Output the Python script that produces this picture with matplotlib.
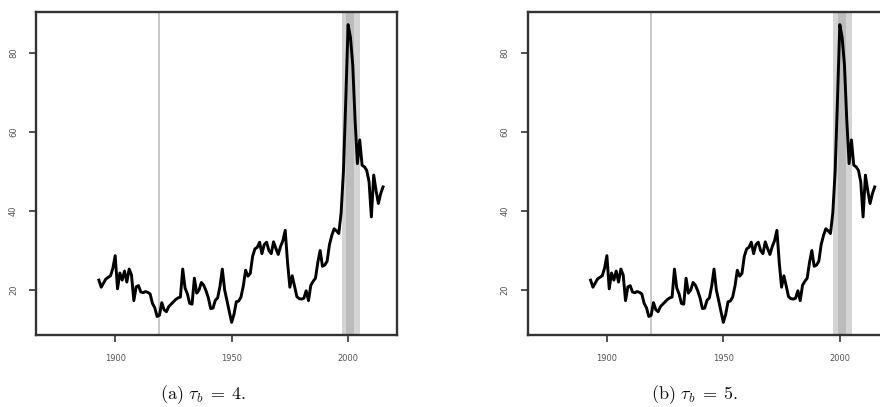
import matplotlib
matplotlib.use("Agg")
import matplotlib.pyplot as plt

plt.rcParams["mathtext.fontset"] = "cm"

# Annual series values
years = [1893, 1894, 1896, 1898, 1899, 1900, 1901, 1902, 1903, 1904, 1905, 1906,
         1907, 1908, 1909, 1910, 1911, 1912, 1913, 1914, 1915, 1916, 1917, 1918,
         1919, 1920, 1921, 1922, 1923, 1924, 1925, 1926, 1927, 1928, 1929, 1930,
         1931, 1932, 1933, 1934, 1935, 1936, 1937, 1938, 1939, 1940, 1941, 1942,
         1943, 1944, 1945, 1946, 1947, 1948, 1949, 1950, 1951, 1952, 1953, 1954,
         1955, 1956, 1957, 1958, 1959, 1960, 1961, 1962, 1963, 1964, 1965, 1966,
         1967, 1968, 1969, 1970, 1971, 1972, 1973, 1974, 1975, 1976, 1977, 1978,
         1979, 1980, 1981, 1982, 1983, 1984, 1985, 1986, 1987, 1988, 1989, 1990,
         1991, 1992, 1993, 1994, 1995, 1996, 1997, 1998, 1999, 2000, 2001, 2002,
         2003, 2004, 2005, 2006, 2007, 2008, 2009, 2010, 2011, 2012, 2013, 2014,
         2015]
values = [22.5, 20.7, 22.8, 23.6, 25.5, 28.7, 20.3, 24.3, 22.5, 24.8, 22.0, 25.3,
          23.8, 17.3, 20.8, 21.1, 19.5, 19.3, 19.6, 19.4, 19.0, 16.6, 15.5, 13.3,
          13.6, 16.8, 15.0, 14.5, 15.8, 16.4, 17.0, 17.6, 18.0, 18.2, 25.3, 20.5,
          19.0, 16.6, 16.4, 23.0, 19.2, 20.0, 21.9, 21.2, 19.8, 18.0, 15.3, 15.4,
          17.4, 18.0, 21.0, 25.3, 20.0, 17.3, 14.5, 11.8, 13.8, 17.0, 17.2, 18.2,
          21.0, 25.0, 23.5, 24.2, 28.5, 30.4, 30.8, 32.1, 29.2, 31.5, 32.1, 30.0,
          29.2, 32.2, 30.5, 29.0, 31.0, 32.5, 35.1, 27.0, 20.7, 23.6, 21.0, 18.3,
          17.8, 17.7, 17.9, 19.8, 17.3, 21.2, 22.2, 23.0, 27.0, 30.0, 26.0, 26.3,
          27.3, 31.5, 33.8, 35.5, 35.0, 34.3, 39.5, 50.0, 68.0, 87.2, 84.0, 77.0,
          63.0, 52.0, 58.0, 51.6, 51.2, 50.3, 47.4, 38.5, 49.1, 45.2, 41.9, 44.4,
          46.1]

break_year = 1918.9
outer_band = (1997.2, 2005.1)
inner_band = (1999.3, 2002.7)

x_ticks = [1900, 1950, 2000]
y_ticks = [20, 40, 60, 80]
captions = [r"$\mathrm{(a)}\ \tau_b\;=\;4.$", r"$\mathrm{(b)}\ \tau_b\;=\;5.$"]

W, H = 880, 407
fig = plt.figure(figsize=(W / 100, H / 100), dpi=100)

panel_left_px = [36, 527.7]
caption_x_px = [203, 695]
ax_w_px, ax_top_px, ax_bot_px = 361, 12, 335

for left_px, cap_x, cap in zip(panel_left_px, caption_x_px, captions):
    ax = fig.add_axes([left_px / W, 1 - ax_bot_px / H,
                       ax_w_px / W, (ax_bot_px - ax_top_px) / H])
    ax.axvspan(*outer_band, color="#d4d4d4", lw=0, zorder=1)
    ax.axvspan(*inner_band, color="#bcbcbc", lw=0, zorder=1)
    ax.axvline(break_year, color="#c8c8c8", lw=1.4, zorder=1)
    ax.plot(years, values, color="black", lw=2.1, zorder=3,
            solid_joinstyle="round")
    ax.set_xlim(1866, 2021)
    ax.set_ylim(8.6, 90.4)
    ax.set_xticks(x_ticks)
    ax.set_yticks(y_ticks)
    ax.set_xticklabels([str(t) for t in x_ticks], fontsize=6, color="#555555")
    ax.set_yticklabels([str(t) for t in y_ticks], fontsize=6, color="#555555",
                       rotation=90, va="center")
    ax.tick_params(direction="out", length=5, width=1.2, color="#333333")
    ax.tick_params(axis="x", pad=9)
    ax.tick_params(axis="y", pad=8)
    for s in ax.spines.values():
        s.set_linewidth(1.7)
        s.set_color("#333333")
    fig.text(cap_x / W, 1 - 395 / H, cap, ha="center", va="center",
             fontsize=13, color="#111111")

fig.savefig("out.png", dpi=100)
